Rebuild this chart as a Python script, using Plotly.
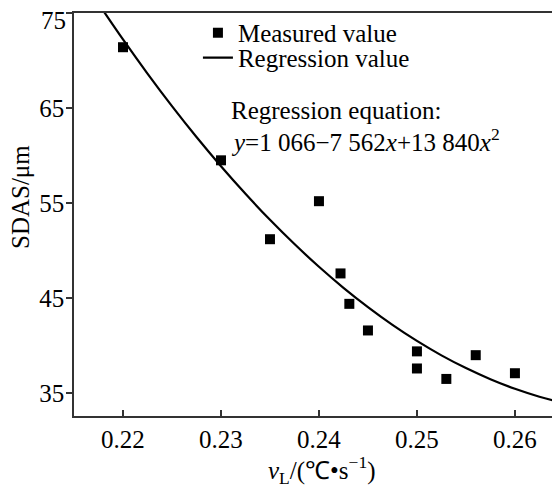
import plotly.graph_objects as go

# Measured data
v_meas = [0.220, 0.230, 0.235, 0.240, 0.2422, 0.2431, 0.245, 0.250, 0.250, 0.253, 0.256, 0.260]
sdas_meas = [71.4, 59.5, 51.2, 55.2, 47.6, 44.4, 41.6, 39.4, 37.6, 36.5, 39.0, 37.1]

# Regression curve samples (y = 1066 - 7562x + 13840x^2)
v_fit = [0.218, 0.220, 0.2225, 0.225, 0.2275, 0.230, 0.2325, 0.235, 0.2375, 0.240,
         0.2425, 0.245, 0.2475, 0.250, 0.2525, 0.255, 0.2575, 0.260, 0.2625, 0.2645]
sdas_fit = [75.22, 72.22, 68.63, 65.20, 61.95, 58.88, 55.98, 53.24, 50.69, 48.30,
            46.09, 44.06, 42.19, 40.50, 38.98, 37.64, 36.47, 35.46, 34.63, 34.09]

x_ticks = [0.22, 0.23, 0.24, 0.25, 0.26]
y_ticks = [35, 45, 55, 65, 75]
y_ticktext = ["35", "45", "55", "65", ""]
top_label = "75"

FONT = "Liberation Serif, Times New Roman, serif"
AX = "#333333"

# page body has an 8px margin; figure is sized to fit inside the window
W, H = 552, 480
L, T = 66, 5
PW, PH = 486, 403


def px(xv):
    return (xv - 74) / PW


def py(yv):
    return (416 - yv) / PH


fig = go.Figure()
fig.add_trace(go.Scatter(
    x=v_meas, y=sdas_meas, mode="markers", name="Measured value",
    marker=dict(symbol="square", size=10, color="black"), legend="legend"))
fig.add_trace(go.Scatter(
    x=v_fit, y=sdas_fit, mode="lines", name="Regression value",
    line=dict(color="black", width=2.2, shape="spline"), legend="legend2"))

fig.update_layout(
    width=W, height=H,
    margin=dict(l=L, r=W - L - PW, t=T, b=H - T - PH),
    paper_bgcolor="white", plot_bgcolor="white",
    font=dict(family=FONT, size=25, color="black"),
    showlegend=True,
    legend=dict(x=0.255, y=py(35) + 0.005, xanchor="left", yanchor="middle",
                bgcolor="rgba(0,0,0,0)", font=dict(size=25),
                tracegroupgap=0, itemwidth=30),
    legend2=dict(x=0.255, y=py(61) + 0.008, xanchor="left", yanchor="middle",
                 bgcolor="rgba(0,0,0,0)", font=dict(size=25),
                 tracegroupgap=0, itemwidth=30),
    xaxis=dict(range=[0.215, 0.2646], tickvals=x_ticks,
               ticktext=[f"{t:.2f}" for t in x_ticks],
               ticks="inside", ticklen=6, tickwidth=1.5, tickcolor=AX,
               showline=True, linecolor=AX, linewidth=1.5, mirror=True,
               showgrid=False, zeroline=False,
               tickfont=dict(size=25, family=FONT)),
    yaxis=dict(range=[32.6, 75], tickvals=y_ticks, ticktext=y_ticktext,
               ticks="outside", ticklen=6, tickwidth=1.5, tickcolor=AX,
               showline=True, linecolor=AX, linewidth=1.5, mirror=False,
               showgrid=False, zeroline=False, ticklabelstandoff=-3,
               tickfont=dict(size=25, family=FONT)),
)

fig.add_annotation(text=top_label, xref="paper", yref="y", x=px(68), y=y_ticks[-1],
                   yshift=-7, xanchor="right", yanchor="middle", showarrow=False,
                   font=dict(size=25, family=FONT))
fig.add_annotation(text="Regression equation:", xref="paper", yref="paper",
                   x=px(229), y=py(110), xanchor="left", yanchor="middle",
                   showarrow=False, font=dict(size=25, family=FONT))
fig.add_annotation(text="<i>y</i>=1 066−7 562<i>x</i>+13 840<i>x</i><sup>2</sup>",
                   xref="paper", yref="paper",
                   x=px(229), y=py(140), xanchor="left", yanchor="middle",
                   showarrow=False, font=dict(size=25, family=FONT))
fig.add_annotation(text="SDAS/μm", xref="paper", yref="paper",
                   x=px(20), y=py(197), xanchor="center", yanchor="middle",
                   textangle=-90, showarrow=False, font=dict(size=25, family=FONT))
fig.add_annotation(text="<i>v</i><sub>L</sub>/(℃•s<sup>−1</sup>)", xref="paper", yref="paper",
                   x=px(322), y=py(470), xanchor="center", yanchor="middle",
                   showarrow=False, font=dict(size=25, family=FONT))

fig.write_html("out.html")
